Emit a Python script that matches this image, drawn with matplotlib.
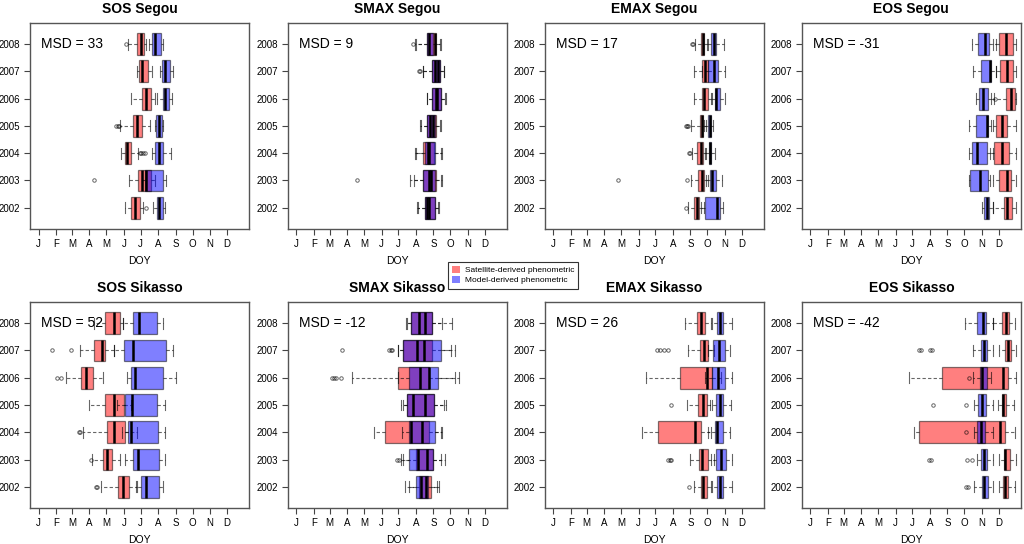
import matplotlib
matplotlib.use('Agg')
import matplotlib.pyplot as plt
from matplotlib.patches import Patch

plt.rcParams['font.family'] = ['Liberation Sans', 'DejaVu Sans']

years = ['2002', '2003', '2004', '2005', '2006', '2007', '2008']
month_labels = ['J', 'F', 'M', 'A', 'M', 'J', 'J', 'A', 'S', 'O', 'N', 'D']
month_starts = [1, 32, 60, 91, 121, 152, 182, 213, 244, 274, 305, 335]

# box stats per year (2002..2008): (whislo, q1, med, q3, whishi), DOY
sos_segou_sat = [(154, 165, 172, 181, 186), (162, 177, 184, 200, 208), (147, 154, 158, 164, 177),
                 (146, 169, 175, 184, 198), (165, 185, 192, 201, 208), (176, 179, 185, 195, 202),
                 (159, 175, 182, 187, 192)]
sos_segou_sat_out = [[191], [99], [180, 183, 186, 190], [139, 141, 143], [], [], [156]]
sos_segou_mod = [(204, 211, 215, 221, 225), (185, 189, 192, 221, 227), (202, 208, 215, 221, 235),
                 (208, 210, 215, 220, 222), (211, 221, 225, 233, 237), (216, 220, 225, 234, 240),
                 (196, 202, 207, 218, 222)]
sos_segou_mod_out = [[], [], [], [], [], [], []]

smax_segou_sat = [(217, 229, 233, 247, 254), (202, 225, 240, 248, 260), (212, 226, 236, 245, 260),
                  (220, 232, 244, 248, 258), (233, 242, 248, 257, 267), (226, 242, 246, 255, 263),
                  (212, 232, 246, 248, 258)]
smax_segou_sat_out = [[], [108], [], [], [], [218, 220], [208]]
smax_segou_mod = [(215, 230, 236, 247, 252), (210, 225, 237, 247, 257), (214, 230, 235, 247, 257),
                  (222, 232, 238, 247, 256), (232, 242, 250, 257, 265), (226, 242, 253, 256, 262),
                  (214, 232, 236, 244, 255)]
smax_segou_mod_out = [[], [], [], [], [], [], []]

emax_segou_sat = [(240, 251, 255, 260, 268), (245, 258, 265, 269, 276), (247, 256, 263, 267, 272),
                  (245, 261, 264, 266, 272), (251, 264, 268, 275, 282), (250, 264, 270, 275, 285),
                  (253, 262, 266, 268, 275)]
emax_segou_sat_out = [[237], [115, 238], [242, 243], [236, 238, 240], [], [], [246, 249]]
emax_segou_mod = [(262, 270, 292, 297, 301), (272, 279, 283, 289, 300), (270, 277, 279, 281, 287),
                  (268, 276, 278, 280, 284), (280, 287, 290, 296, 306), (265, 275, 285, 293, 306),
                  (274, 280, 286, 290, 303)]
emax_segou_mod_out = [[], [], [], [], [], [], []]

eos_segou_sat = [(325, 344, 349, 359, 365), (325, 336, 349, 357, 365), (319, 326, 340, 353, 366),
                 (325, 331, 340, 350, 365), (322, 348, 357, 363, 366), (331, 337, 349, 360, 366),
                 (325, 335, 348, 360, 366)]
eos_segou_sat_out = [[], [], [], [], [], [], []]
eos_segou_mod = [(306, 309, 314, 318, 325), (282, 284, 301, 316, 319), (282, 288, 297, 315, 324),
                 (282, 294, 314, 316, 322), (295, 300, 307, 316, 326), (290, 304, 320, 322, 331),
                 (288, 298, 310, 318, 330)]
eos_segou_mod_out = [[], [], [], [], [329], [], []]

sos_sikasso_sat = [(111, 141, 151, 161, 175), (96, 116, 122, 131, 145), (80, 123, 134, 154, 175),
                   (91, 119, 135, 152, 165), (50, 76, 85, 97, 116), (75, 99, 113, 118, 135),
                   (100, 119, 134, 145, 150)]
sos_sikasso_sat_out = [[102, 105], [93], [72, 74], [], [33, 40], [25, 58], []]
sos_sikasso_mod = [(174, 183, 192, 214, 222), (155, 168, 177, 215, 226), (148, 159, 164, 212, 226),
                   (140, 155, 166, 211, 226), (158, 165, 172, 222, 244), (135, 152, 169, 227, 240),
                   (150, 169, 179, 211, 222)]
sos_sikasso_mod_out = [[], [], [], [], [], [], []]

smax_sikasso_sat = [(200, 218, 231, 240, 254), (190, 214, 232, 243, 257), (139, 158, 204, 237, 260),
                    (186, 198, 230, 245, 267), (99, 181, 220, 237, 290), (181, 190, 228, 242, 283),
                    (197, 205, 230, 242, 277)]
smax_sikasso_sat_out = [[], [], [], [], [65, 68, 72, 80], [81, 165, 168, 171], []]
smax_sikasso_mod = [(193, 214, 222, 235, 250), (186, 200, 217, 244, 265), (188, 201, 224, 246, 258),
                    (190, 198, 208, 245, 262), (181, 200, 236, 252, 283), (181, 190, 215, 257, 276),
                    (195, 205, 218, 242, 260)]
smax_sikasso_mod_out = [[], [180, 183], [], [], [], [], []]

emax_sikasso_sat = [(250, 262, 267, 273, 282), (243, 259, 265, 275, 285), (159, 187, 253, 263, 280),
                    (238, 258, 267, 274, 283), (165, 226, 273, 282, 298), (239, 261, 269, 276, 285),
                    (235, 255, 262, 270, 280)]
emax_sikasso_sat_out = [[241], [204, 207, 210], [], [210], [], [185, 190, 198, 205], []]
emax_sikasso_mod = [(281, 292, 297, 302, 317), (281, 289, 298, 308, 317), (275, 287, 292, 301, 314),
                    (278, 290, 296, 302, 316), (270, 282, 293, 306, 318), (275, 284, 295, 305, 314),
                    (282, 292, 297, 302, 318)]
emax_sikasso_mod_out = [[], [], [], [], [], [], []]

eos_sikasso_sat = [(335, 342, 346, 351, 363), (335, 344, 347, 355, 365), (185, 194, 338, 347, 363),
                   (334, 340, 343, 348, 362), (176, 235, 343, 351, 366), (335, 346, 352, 357, 365),
                   (325, 341, 348, 353, 363)]
eos_sikasso_sat_out = [[], [], [], [], [], [], []]
eos_sikasso_mod = [(292, 306, 308, 316, 325), (297, 304, 308, 314, 325), (292, 297, 303, 310, 325),
                   (292, 298, 306, 312, 325), (290, 301, 306, 314, 322), (290, 304, 308, 314, 325),
                   (276, 296, 307, 312, 325)]
eos_sikasso_mod_out = [[277, 280], [211, 214, 278, 288], [277], [218, 277], [282], [193, 197, 213, 217], []]

titles = ['SOS Segou', 'SMAX Segou', 'EMAX Segou', 'EOS Segou',
          'SOS Sikasso', 'SMAX Sikasso', 'EMAX Sikasso', 'EOS Sikasso']
msd = [33, 9, 17, -31, 52, -12, 26, -42]

panels = [(sos_segou_sat, sos_segou_sat_out, sos_segou_mod, sos_segou_mod_out),
          (smax_segou_sat, smax_segou_sat_out, smax_segou_mod, smax_segou_mod_out),
          (emax_segou_sat, emax_segou_sat_out, emax_segou_mod, emax_segou_mod_out),
          (eos_segou_sat, eos_segou_sat_out, eos_segou_mod, eos_segou_mod_out),
          (sos_sikasso_sat, sos_sikasso_sat_out, sos_sikasso_mod, sos_sikasso_mod_out),
          (smax_sikasso_sat, smax_sikasso_sat_out, smax_sikasso_mod, smax_sikasso_mod_out),
          (emax_sikasso_sat, emax_sikasso_sat_out, emax_sikasso_mod, emax_sikasso_mod_out),
          (eos_sikasso_sat, eos_sikasso_sat_out, eos_sikasso_mod, eos_sikasso_mod_out)]

red = (1, 0, 0, 0.5)
blue = (0, 0, 1, 0.5)


def to_stats(boxes, outs):
    stats = []
    for b, o in zip(boxes, outs):
        stats.append({'whislo': b[0], 'q1': b[1], 'med': b[2], 'q3': b[3],
                      'whishi': b[4], 'fliers': o})
    return stats


def draw_boxes(ax, boxes, outs, color):
    ax.bxp(to_stats(boxes, outs), positions=range(1, 8), widths=0.8,
           orientation='horizontal', patch_artist=True, manage_ticks=False,
           boxprops=dict(facecolor=color, edgecolor=(0, 0, 0, 0.5), linewidth=0.9),
           medianprops=dict(color='black', linewidth=1.8),
           whiskerprops=dict(color=(0, 0, 0, 0.6), linestyle=(0, (3, 2)), linewidth=0.8),
           capprops=dict(color=(0, 0, 0, 0.6), linewidth=0.8),
           flierprops=dict(marker='o', markersize=2.5, markerfacecolor='none',
                           markeredgecolor=(0, 0, 0, 0.6), markeredgewidth=0.7))


fig = plt.figure(figsize=(10.24, 5.44), dpi=100)
lefts = [0.0293, 0.281, 0.532, 0.783]
bottoms = [0.579, 0.066]

for i, (sat, sat_out, mod, mod_out) in enumerate(panels):
    ax = fig.add_axes([lefts[i % 4], bottoms[i // 4], 0.214, 0.379])
    draw_boxes(ax, sat, sat_out, red)
    draw_boxes(ax, mod, mod_out, blue)
    ax.set_xlim(-14.4, 374.4)
    ax.set_ylim(0.22, 7.78)
    ax.set_xticks(month_starts)
    ax.set_xticklabels(month_labels)
    ax.set_yticks(range(1, 8))
    ax.set_yticklabels(years)
    ax.tick_params(labelsize=7, length=4, color='#444444', pad=3)
    for s in ax.spines.values():
        s.set_color('#555555')
        s.set_linewidth(1.0)
    ax.set_title(titles[i], fontsize=10, fontweight='bold', pad=7)
    ax.set_xlabel('DOY', fontsize=7.5, labelpad=5)
    ax.text(0.05, 7, 'MSD = %d' % msd[i], transform=ax.get_yaxis_transform(),
            fontsize=10, va='center', ha='left')

handles = [Patch(facecolor=red, edgecolor='none', label='Satellite-derived phenometric'),
           Patch(facecolor=blue, edgecolor='none', label='Model-derived phenometric')]
leg = fig.legend(handles=handles, loc='center', bbox_to_anchor=(0.501, 0.494), fontsize=6,
                 fancybox=False, edgecolor='#333333', handlelength=1.0, handleheight=0.9,
                 handletextpad=0.5, borderpad=0.5, labelspacing=0.2, framealpha=1)
leg.get_frame().set_linewidth(0.8)

fig.savefig('out.png', dpi=100)
